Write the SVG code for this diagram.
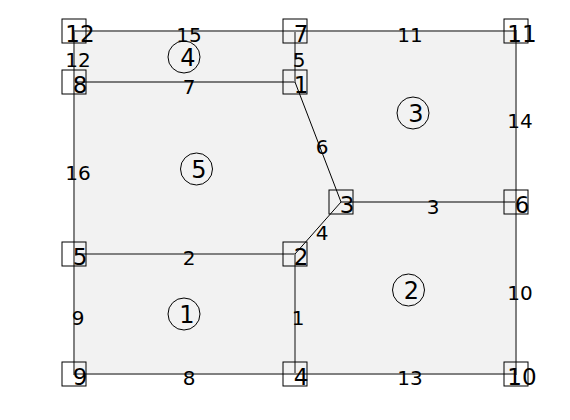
<svg xmlns="http://www.w3.org/2000/svg" width="570" height="420" viewBox="0 0 570 420">
<style>
.bd{stroke:#808080;stroke-width:2;fill:none}
.in{stroke:#000;stroke-width:1;fill:none}
.box{fill:none;stroke:#000;stroke-width:1}
.nl{font-family:"DejaVu Sans",sans-serif;font-size:23px;fill:#000;text-anchor:middle}
.el{font-family:"DejaVu Sans",sans-serif;font-size:20px;fill:#000;text-anchor:middle}
.fl{font-family:"DejaVu Sans",sans-serif;font-size:24px;fill:#000;text-anchor:middle}
.fc{fill:none;stroke:#000;stroke-width:1}
</style>
<rect width="570" height="420" fill="#fff"/>
<rect x="74" y="31" width="442" height="343" fill="#f2f2f2"/>
<g id="connectors">
<path class="in" d="M74 82H295"/>
<path class="in" d="M295 82L341 202"/>
<path class="in" d="M341 202L295 254"/>
<path class="in" d="M341 202H516"/>
<path class="bd" d="M74 31H516V374H74Z"/>
<path class="bd" d="M74 254H295"/>
<path class="bd" d="M295 254V374"/>
<path class="bd" d="M295 31V82"/>
</g>
<g id="edge-labels">
<text class="el" x="189" y="42">15</text>
<text class="el" x="410" y="42">11</text>
<text class="el" x="78" y="67">12</text>
<text class="el" x="299" y="67">5</text>
<text class="el" x="189" y="94">7</text>
<text class="el" x="520" y="128">14</text>
<text class="el" x="78" y="180">16</text>
<text class="el" x="322" y="154">6</text>
<text class="el" x="433" y="214">3</text>
<text class="el" x="322" y="240">4</text>
<text class="el" x="189" y="265">2</text>
<text class="el" x="78" y="325">9</text>
<text class="el" x="298" y="325">1</text>
<text class="el" x="520" y="300">10</text>
<text class="el" x="189" y="385">8</text>
<text class="el" x="410" y="385">13</text>
</g>
<g id="face-1"><circle class="fc" cx="184" cy="314" r="16"/><text class="fl" x="187" y="322.5">1</text></g>
<g id="face-2"><circle class="fc" cx="408.5" cy="290" r="16"/><text class="fl" x="411.5" y="298.5">2</text></g>
<g id="face-3"><circle class="fc" cx="413" cy="113" r="16"/><text class="fl" x="416" y="121.5">3</text></g>
<g id="face-4"><circle class="fc" cx="184" cy="57" r="16"/><text class="fl" x="188" y="65.5">4</text></g>
<g id="face-5"><circle class="fc" cx="196.5" cy="169" r="16"/><text class="fl" x="199" y="177.5">5</text></g>
<g id="node-12"><rect class="box" x="62" y="19" width="24" height="24"/><text class="nl" x="80" y="42">12</text></g>
<g id="node-7"><rect class="box" x="283" y="19" width="24" height="24"/><text class="nl" x="301" y="42">7</text></g>
<g id="node-11"><rect class="box" x="504" y="19" width="24" height="24"/><text class="nl" x="522" y="42">11</text></g>
<g id="node-8"><rect class="box" x="62" y="70" width="24" height="24"/><text class="nl" x="80" y="93">8</text></g>
<g id="node-1"><rect class="box" x="283" y="70" width="24" height="24"/><text class="nl" x="301" y="93">1</text></g>
<g id="node-3"><rect class="box" x="329" y="190" width="24" height="24"/><text class="nl" x="347" y="213">3</text></g>
<g id="node-6"><rect class="box" x="504" y="190" width="24" height="24"/><text class="nl" x="522" y="213">6</text></g>
<g id="node-5"><rect class="box" x="62" y="242" width="24" height="24"/><text class="nl" x="80" y="265">5</text></g>
<g id="node-2"><rect class="box" x="283" y="242" width="24" height="24"/><text class="nl" x="301" y="265">2</text></g>
<g id="node-9"><rect class="box" x="62" y="362" width="24" height="24"/><text class="nl" x="80" y="385">9</text></g>
<g id="node-4"><rect class="box" x="283" y="362" width="24" height="24"/><text class="nl" x="301" y="385">4</text></g>
<g id="node-10"><rect class="box" x="504" y="362" width="24" height="24"/><text class="nl" x="522" y="385">10</text></g>
</svg>
